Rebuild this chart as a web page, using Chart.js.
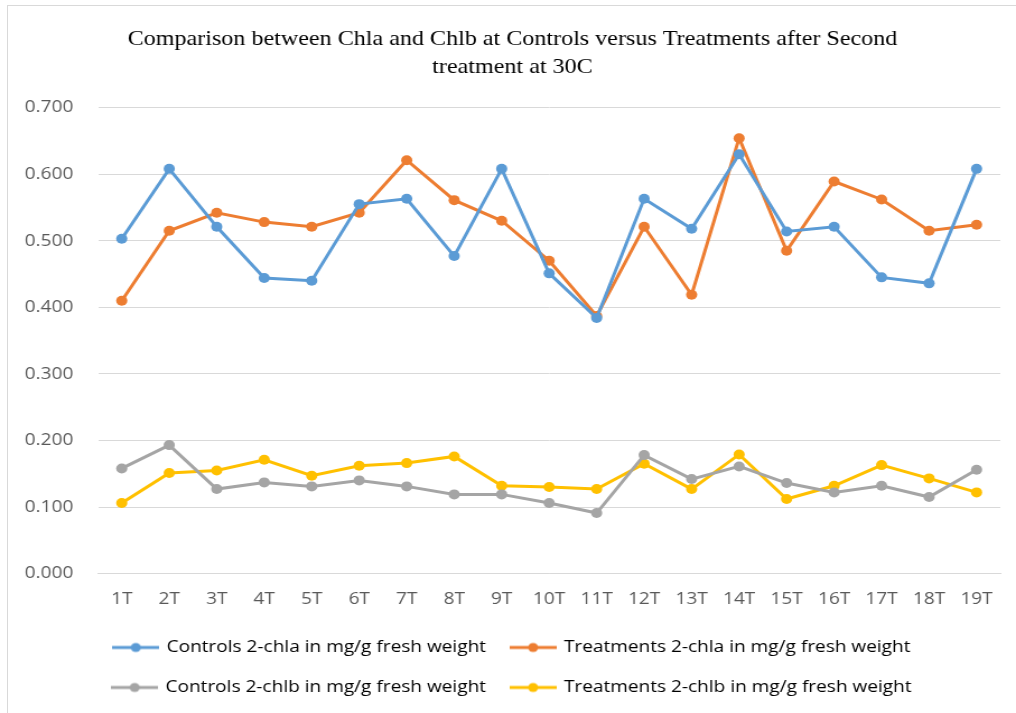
<!DOCTYPE html>
<html>
<head>
<meta charset="utf-8">
<script src="https://cdn.jsdelivr.net/npm/chart.js@4.4.1/dist/chart.umd.min.js"></script>
<style>
  body { margin: 0; background: #fff; }
  #wrap { position: relative; width: 1016px; height: 713px; overflow: hidden; }
  /* the original picture is a bit stretched sideways, so the canvas is too */
  #chlChart { width: 1016px; height: 713px; }
  #frame { position: absolute; left: 7px; top: 5px; width: 1020px; height: 720px; border: 1px solid #d9d9d9; box-sizing: border-box; pointer-events: none; }
</style>
</head>
<body>
<div id="wrap">
  <canvas id="chlChart" width="907" height="713" style="width:1016px;height:713px"></canvas>
  <div id="frame"></div>
</div>
<script>
// chart data
const labels = ['1T','2T','3T','4T','5T','6T','7T','8T','9T','10T','11T','12T','13T','14T','15T','16T','17T','18T','19T'];
const controlsChla = [0.503,0.608,0.521,0.444,0.440,0.555,0.563,0.477,0.608,0.451,0.384,0.563,0.518,0.630,0.514,0.521,0.445,0.436,0.608];
const treatmentsChla = [0.410,0.515,0.542,0.528,0.521,0.542,0.621,0.561,0.530,0.470,0.387,0.521,0.419,0.654,0.485,0.589,0.562,0.515,0.524];
const controlsChlb = [0.158,0.193,0.127,0.137,0.131,0.140,0.131,0.119,0.119,0.106,0.091,0.178,0.142,0.161,0.136,0.122,0.132,0.115,0.156];
const treatmentsChlb = [0.106,0.151,0.155,0.171,0.147,0.162,0.166,0.176,0.132,0.130,0.127,0.165,0.127,0.179,0.112,0.132,0.163,0.143,0.122];

const colors = ['#5b9bd5', '#ed7d31', '#a5a5a5', '#ffc000'];

// little line+dot images for the legend
function legendMarker(color) {
  const c = document.createElement('canvas');
  c.width = 42; c.height = 12;
  const ctx = c.getContext('2d');
  ctx.strokeStyle = color;
  ctx.lineWidth = 3;
  ctx.beginPath(); ctx.moveTo(0, 6); ctx.lineTo(42, 6); ctx.stroke();
  ctx.fillStyle = color;
  ctx.beginPath(); ctx.arc(21, 6, 4.5, 0, Math.PI * 2); ctx.fill();
  return c;
}

function series(label, data, color) {
  return {
    label: label,
    data: data,
    borderColor: color,
    backgroundColor: color,
    borderWidth: 3,
    pointRadius: 5,
    pointHoverRadius: 5,
    pointBorderWidth: 0,
    tension: 0
  };
}

new Chart("chlChart", {
  type: "line",
  data: {
    labels: labels,
    datasets: [
      series('Controls 2-chla in mg/g fresh weight', controlsChla, colors[0]),
      series('Treatments 2-chla in mg/g fresh weight', treatmentsChla, colors[1]),
      series('Controls 2-chlb in mg/g fresh weight', controlsChlb, colors[2]),
      series('Treatments 2-chlb in mg/g fresh weight', treatmentsChlb, colors[3])
    ]
  },
  options: {
    responsive: false,
    animation: false,
    layout: { padding: { top: 26, left: 22, right: 14, bottom: 7 } },
    plugins: {
      title: {
        display: true,
        text: ['Comparison between Chla and Chlb at Controls versus Treatments after Second', 'treatment at 30C'],
        font: { family: 'Liberation Serif', size: 21.5, weight: 'normal', lineHeight: 1.27 },
        color: '#000',
        padding: { top: 0, bottom: 27 }
      },
      legend: {
        position: 'bottom',
        labels: {
          font: { family: 'Open Sans', size: 17 },
          color: '#595959',
          usePointStyle: true,
          pointStyleWidth: 38,
          padding: 23,
          generateLabels: function(chart) {
            return chart.data.datasets.map(function(ds, i) {
              return {
                text: ds.label,
                pointStyle: legendMarker(colors[i]),
                fillStyle: colors[i],
                strokeStyle: colors[i],
                lineWidth: 0,
                datasetIndex: i
              };
            });
          }
        }
      },
      tooltip: { enabled: false }
    },
    scales: {
      x: {
        offset: true,
        grid: { display: false },
        border: { color: '#d9d9d9' },
        ticks: { color: '#595959', font: { family: 'Open Sans', size: 17 }, padding: 7 }
      },
      y: {
        min: 0,
        max: 0.7,
        border: { display: false },
        grid: { color: '#d9d9d9', drawTicks: false },
        afterFit: function(scale) { scale.width = 65.5; },
        ticks: {
          stepSize: 0.1,
          crossAlign: 'far',
          color: '#595959',
          font: { family: 'Open Sans', size: 17 },
          callback: function(v) { return v.toFixed(3); }
        }
      }
    }
  }
});
</script>
</body>
</html>
